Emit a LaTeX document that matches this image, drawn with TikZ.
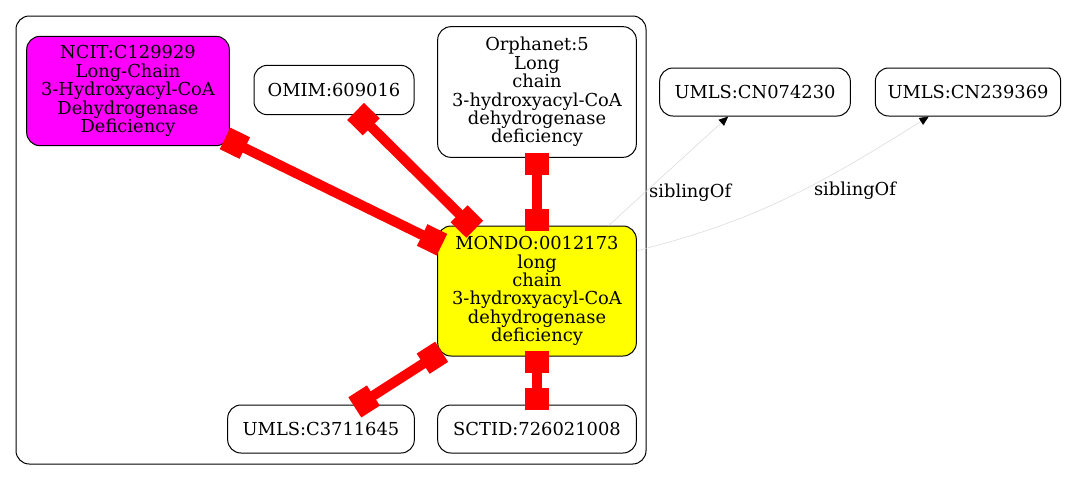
\documentclass[tikz,border=0pt]{standalone}
\usepackage{fontspec}
\setmainfont{DejaVu Serif}
\usepackage{xcolor}
\usepackage{tikz}
\usetikzlibrary{arrows.meta,positioning}

\definecolor{ncitmag}{RGB}{255,0,255}
\definecolor{mondoyel}{RGB}{255,255,0}
\definecolor{xrefred}{RGB}{255,0,0}

\tikzset{
  ent/.style={draw, rounded corners=10pt, align=center, inner sep=0pt, line width=0.75pt},
  xref/.style={draw=xrefred, line width=7.5pt,
    {Square[length=16.5pt,width=18pt]}-{Square[length=16.5pt,width=18pt]},
    shorten <=-4pt, shorten >=-4pt},
  sib/.style={draw=black!15, line width=0.4pt, -{Triangle[length=7pt,width=6pt,color=black]}},
}

\begin{document}
\begin{tikzpicture}[x=0.75pt, y=-0.75pt, font=\fontsize{13.4}{13.8}\selectfont]
    \useasboundingbox (0,0) rectangle (1071,480);

    % Cluster
    \draw[rounded corners=10pt, line width=0.75pt] (16,16) rectangle (646,464);

    % Nodes inside the cluster
    \node[ent, fill=ncitmag, minimum width=152pt, minimum height=82pt] (ncit) at (128,91)
        {NCIT:C129929\\Long-Chain\\3-Hydroxyacyl-CoA\\Dehydrogenase\\Deficiency};
    \node[ent, minimum width=120pt, minimum height=37pt] (omim) at (334,90) {OMIM:609016};
    \node[ent, minimum width=149pt, minimum height=98pt] (orpha) at (537,92)
        {Orphanet:5\\Long\\chain\\3-hydroxyacyl-CoA\\dehydrogenase\\deficiency};
    \node[ent, fill=mondoyel, minimum width=149pt, minimum height=97.5pt] (mondo) at (537,291)
        {MONDO:0012173\\long\\chain\\3-hydroxyacyl-CoA\\dehydrogenase\\deficiency};
    \node[ent, minimum width=140pt, minimum height=36pt] (umls) at (321,429) {UMLS:C3711645};
    \node[ent, minimum width=149pt, minimum height=36pt] (sctid) at (537,429) {SCTID:726021008};

    % Nodes outside the cluster
    \node[ent, minimum width=143pt, minimum height=36pt] (cna) at (755,92) {UMLS:CN074230};
    \node[ent, minimum width=139pt, minimum height=36pt] (cnb) at (968,92) {UMLS:CN239369};

    % Cross references
    \draw[xref] (ncit) -- (mondo);
    \draw[xref] (omim) -- (mondo);
    \draw[xref] (orpha) -- (mondo);
    \draw[xref] (mondo) -- (umls);
    \draw[xref] (mondo) -- (sctid);

    % Siblings
    \draw[sib] (mondo) -- node[pos=0.3, anchor=west, text=black] {siblingOf} (cna);
    \draw[sib] (mondo.22) to[out=14, in=-148] (cnb);
    \node (siblab) at (855,191) {siblingOf};
\end{tikzpicture}
\end{document}
